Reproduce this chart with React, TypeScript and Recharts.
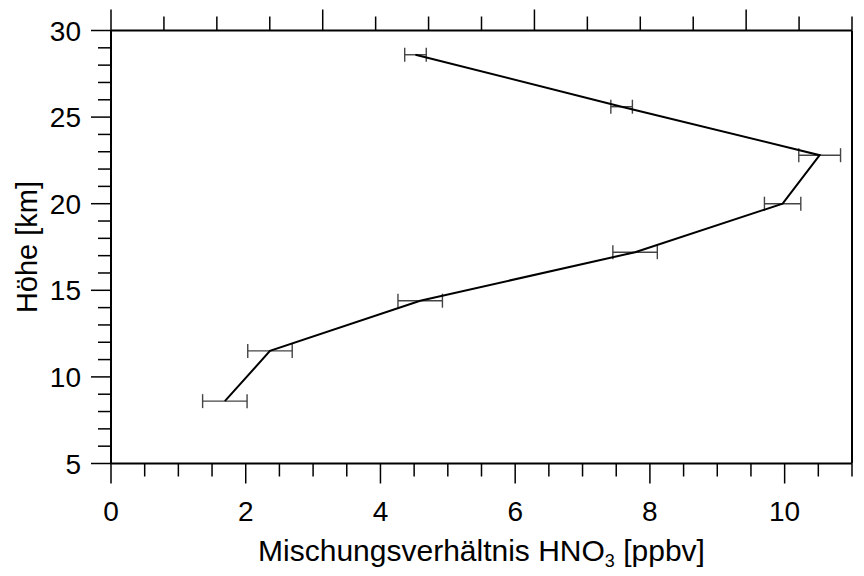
import React from "react";
import { ComposedChart, Scatter, XAxis, YAxis, ErrorBar } from "recharts";

// HNO3 mixing ratio profile (ppbv) vs altitude (km)
const mixingRatio = [4.52, 7.58, 10.52, 9.97, 7.78, 4.59, 2.36, 1.69];
const altitude = [28.6, 25.6, 22.8, 20.0, 17.2, 14.4, 11.5, 8.6];
const mixingRatioError = [0.16, 0.16, 0.31, 0.27, 0.33, 0.33, 0.33, 0.33];

const xMajorTicks = [0, 2, 4, 6, 8, 10];
const xAllTicks = [0, 0.5, 1, 1.5, 2, 2.5, 3, 3.5, 4, 4.5, 5, 5.5, 6, 6.5, 7, 7.5, 8, 8.5, 9, 9.5, 10, 10.5, 11];
const yMajorTicks = [5, 10, 15, 20, 25, 30];
const yAllTicks = [5, 6, 7, 8, 9, 10, 11, 12, 13, 14, 15, 16, 17, 18, 19, 20, 21, 22, 23, 24, 25, 26, 27, 28, 29, 30];

const data = mixingRatio.map((x, i) => ({ x, y: altitude[i], ex: mixingRatioError[i] }));

const FONT = "'Liberation Sans', Arial, Helvetica, sans-serif";
const TICK_FS = 28;

const isMajorX = (v: number) => xMajorTicks.includes(v);
const isMajorY = (v: number) => yMajorTicks.includes(v);

const BottomTick = (props: any) => {
  const { x, y, payload } = props;
  const v = payload.value;
  const major = isMajorX(v);
  return (
    <g>
      <line x1={x} x2={x} y1={y} y2={y + (major ? 20 : 13)} stroke="#000" strokeWidth={1.5} />
      {major && (
        <text x={x} y={y + 57} textAnchor="middle" fontFamily={FONT} fontSize={TICK_FS} fill="#000">
          {v}
        </text>
      )}
    </g>
  );
};

const TopTick = (props: any) => {
  const { x, y, payload } = props;
  const major = isMajorX(payload.value);
  return <line x1={x} x2={x} y1={y} y2={y - (major ? 21 : 14)} stroke="#000" strokeWidth={1.5} />;
};

const LeftTick = (props: any) => {
  const { x, y, payload } = props;
  const v = payload.value;
  const major = isMajorY(v);
  return (
    <g>
      <line x1={x} x2={x - (major ? 20 : 13)} y1={y} y2={y} stroke="#000" strokeWidth={1.5} />
      {major && (
        <text x={x - 30} y={y} dy="0.36em" textAnchor="end" fontFamily={FONT} fontSize={TICK_FS} fill="#000">
          {v}
        </text>
      )}
    </g>
  );
};

const RightTick = (props: any) => {
  const { x, y } = props;
  return <line x1={x} x2={x + 13} y1={y} y2={y} stroke="#000" strokeWidth={1.5} />;
};

const XLabel = (props: any) => {
  const vb = props.viewBox;
  const cx = vb.x + vb.width / 2;
  return (
    <text x={cx} y={561} textAnchor="middle" fontFamily={FONT} fontSize={30} fill="#000">
      <tspan>Mischungsverhältnis HNO</tspan>
      <tspan dy={6} fontSize={18}>3</tspan>
      <tspan dy={-6}> [ppbv]</tspan>
    </text>
  );
};

const YLabel = (props: any) => {
  const vb = props.viewBox;
  const cy = vb.y + vb.height / 2;
  const cx = 37;
  return (
    <text x={cx} y={cy} textAnchor="middle" fontFamily={FONT} fontSize={29} fill="#000" transform={`rotate(-90, ${cx}, ${cy})`}>
      Höhe [km]
    </text>
  );
};

const NoShape = () => <g />;

export default function App() {
  return (
    <div style={{ position: "absolute", left: 0, top: 0, background: "#fff" }}>
      <ComposedChart width={864} height={576} data={data} margin={{ top: 0, right: 0, bottom: 0, left: 0 }}>
        <XAxis
          xAxisId="bottom"
          dataKey="x"
          type="number"
          domain={[0, 11]}
          ticks={xAllTicks}
          interval={0}
          orientation="bottom"
          height={112.5}
          tickSize={0}
          tickMargin={0}
          tickLine={false}
          tick={<BottomTick />}
          axisLine={{ stroke: "#000", strokeWidth: 2 }}
          label={<XLabel />}
        />
        <XAxis
          xAxisId="top"
          type="number"
          domain={[0, 11]}
          ticks={xAllTicks}
          interval={0}
          orientation="top"
          height={30.5}
          tickSize={0}
          tickMargin={0}
          tickLine={false}
          tick={<TopTick />}
          axisLine={{ stroke: "#000", strokeWidth: 2 }}
        />
        <YAxis
          yAxisId="left"
          dataKey="y"
          type="number"
          domain={[5, 30]}
          ticks={yAllTicks}
          interval={0}
          orientation="left"
          width={111}
          tickSize={0}
          tickMargin={0}
          tickLine={false}
          tick={<LeftTick />}
          axisLine={{ stroke: "#000", strokeWidth: 2 }}
          label={<YLabel />}
        />
        <YAxis
          yAxisId="right"
          type="number"
          domain={[5, 30]}
          ticks={yAllTicks}
          interval={0}
          orientation="right"
          width={12}
          tickSize={0}
          tickMargin={0}
          tickLine={false}
          tick={<RightTick />}
          axisLine={{ stroke: "#000", strokeWidth: 2 }}
        />
        <Scatter
          xAxisId="bottom"
          yAxisId="left"
          dataKey="y"
          data={data}
          line={{ stroke: "#000", strokeWidth: 2 }}
          lineType="joint"
          shape={<NoShape />}
          isAnimationActive={false}
        >
          <ErrorBar dataKey="ex" direction="x" width={7} stroke="#444" strokeWidth={1.4} isAnimationActive={false} />
        </Scatter>
      </ComposedChart>
    </div>
  );
}
